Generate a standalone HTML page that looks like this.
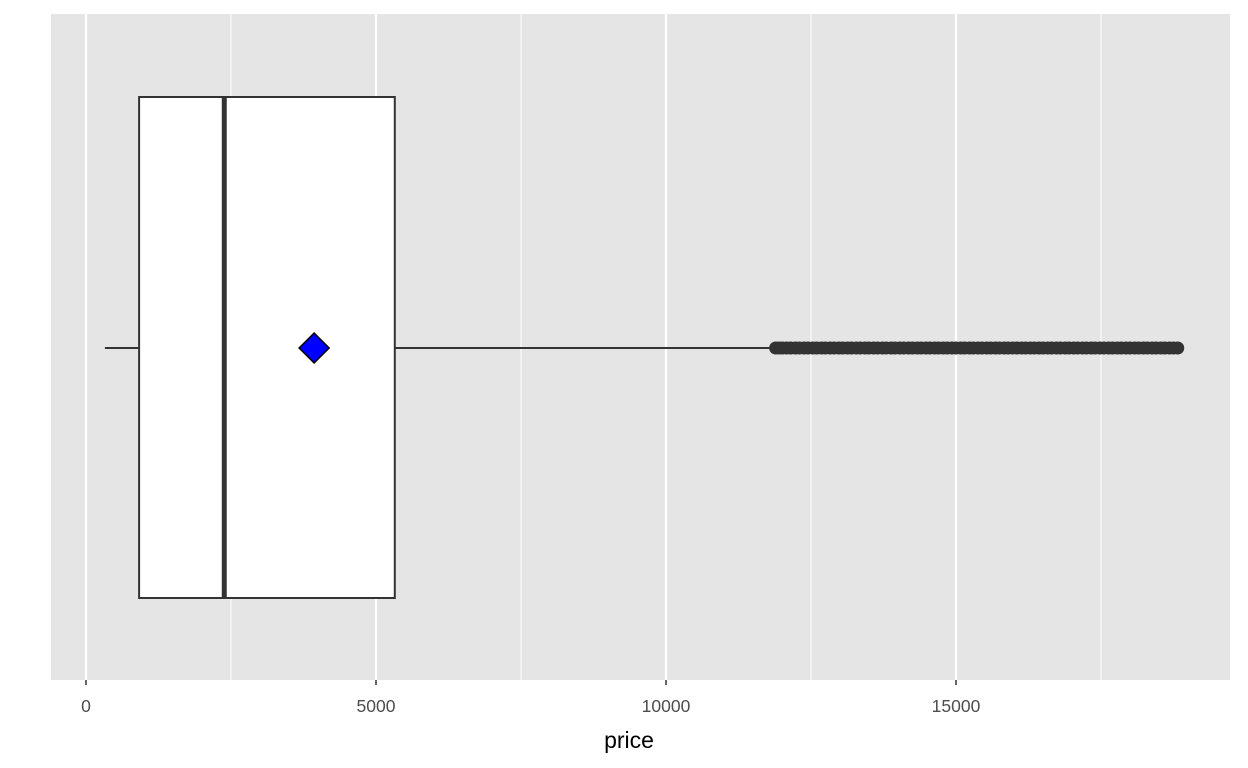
<!DOCTYPE html>
<html><head><meta charset="utf-8"><style>
body{margin:0;background:#fff;}
svg{display:block;font-family:"Liberation Sans",Arial,sans-serif;}
</style></head><body>
<svg id="chart" width="1248" height="768"></svg>
<script>
const ticks=[0,5000,10000,15000];
const minorTicks=[2500,7500,12500,17500];
const boxStats=[326,950,2401,5324,11886]; // lower whisker, q1, median, q3, upper whisker
const meanValue=[3932.8];
const outliers=[11890,11950,12010,12080,12150,12230,12300,12380,12450,12530,12600,12680,12750,12830,12900,12980,13050,13130,13200,13280,13350,13430,13500,13580,13650,13730,13800,13880,13950,14030,14100,14180,14250,14330,14400,14480,14550,14630,14700,14780,14850,14930,15000,15080,15150,15230,15300,15380,15450,15530,15600,15680,15750,15830,15900,15980,16050,16130,16200,16280,16350,16430,16500,16580,16650,16730,16800,16880,16950,17030,17100,17180,17250,17330,17400,17480,17550,17630,17700,17780,17850,17930,18000,18080,18150,18230,18300,18380,18450,18530,18600,18680,18750,18823];
const NS="http://www.w3.org/2000/svg";
const svg=document.getElementById('chart');
const L=51,R=1230,T=14,B=680;
const x=v=>86+v*(290/5000);
const yc=348, bt=97, bb=598;
function mk(t,a,p){const e=document.createElementNS(NS,t);for(const k in a)e.setAttribute(k,a[k]);(p||svg).appendChild(e);return e;}
let e;
e=mk('rect',{x:L,y:T,width:R-L,height:B-T,fill:'#e5e5e5'});


minorTicks.forEach(v=>{e=mk('line',{x1:x(v),x2:x(v),y1:T,y2:B,stroke:'#fff','stroke-width':1});

});
ticks.forEach(v=>{e=mk('line',{x1:x(v),x2:x(v),y1:T,y2:B,stroke:'#fff','stroke-width':2.2});


e=mk('line',{x1:x(v),x2:x(v),y1:B,y2:B+5,stroke:'#333','stroke-width':1.5});


e=mk('text',{x:x(v),y:712,'text-anchor':'middle','font-size':17.5,fill:'#4d4d4d'});e.textContent=v;

});
e=mk('line',{x1:x(boxStats[0]),x2:x(boxStats[1]),y1:yc,y2:yc,stroke:'#333','stroke-width':2});


e=mk('line',{x1:x(boxStats[3]),x2:x(boxStats[4]),y1:yc,y2:yc,stroke:'#333','stroke-width':2});


e=mk('rect',{x:x(boxStats[1])-2,y:bt,width:x(boxStats[3])-x(boxStats[1])+2,height:bb-bt,fill:'#fff',stroke:'#333','stroke-width':2});


e=mk('line',{x1:x(boxStats[2])-1,x2:x(boxStats[2])-1,y1:bt,y2:bb,stroke:'#333','stroke-width':5});


outliers.forEach(v=>{e=mk('circle',{cx:x(v),cy:yc,r:6.5,fill:'#333'});

});
const mx=x(meanValue[0]);
e=mk('polygon',{points:`${mx},${yc-15} ${mx+15},${yc} ${mx},${yc+15} ${mx-15},${yc}`,fill:'#0000ff',stroke:'#000','stroke-width':1.5});


e=mk('text',{x:629,y:748,'text-anchor':'middle','font-size':23,fill:'#000'});e.textContent='price';


</script>
</body></html>
